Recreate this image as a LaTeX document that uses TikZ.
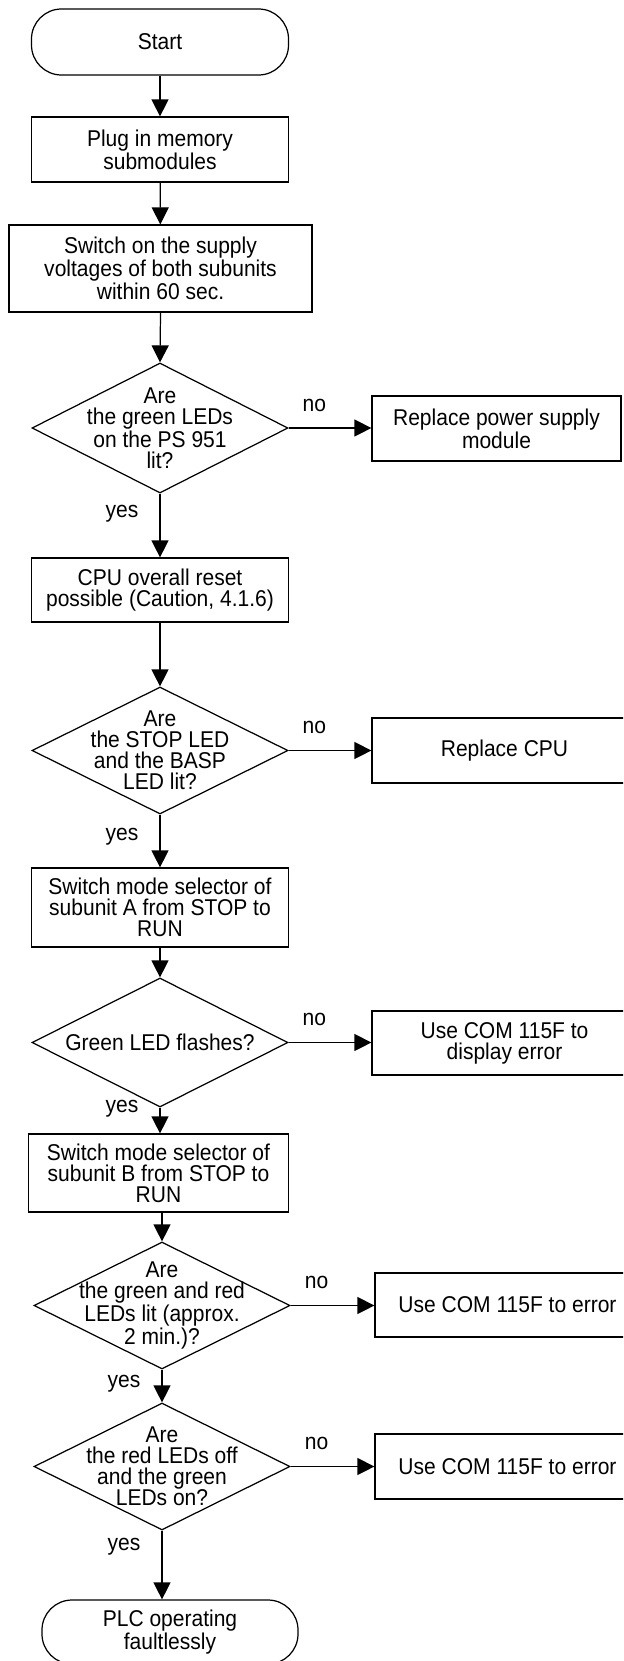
\documentclass[tikz,border=0pt]{standalone}
\usepackage{fontspec}
\setmainfont{Liberation Sans}[FakeStretch=0.92]
\usetikzlibrary{arrows.meta,shapes.geometric}
\tikzset{
  box/.style={draw=black,line width=0.7pt,rectangle,minimum width=5.14cm,minimum height=1.3cm,align=center,inner sep=0pt},
  term/.style={box,rounded corners=0.6cm},
  ask/.style={draw=black,line width=0.7pt,diamond,minimum width=5.12cm,minimum height=2.56cm,inner sep=0pt},
  asktext/.style={align=center,inner sep=0pt},
}
\tikzset{flow/.style={draw=black,line width=0.7pt,-{Triangle[length=0.34cm,width=0.34cm]}}, no/.style={inner sep=0pt,above=0.32cm}, yes/.style={inner sep=0pt,left=0.42cm}}

\begin{document}
\begin{tikzpicture}[every node/.style={font=\fontsize{13}{12}\selectfont}]
\useasboundingbox (0,0) rectangle (12.46,-33.22);
\clip (0,0) rectangle (12.46,-33.22);
% main column
\node[term,minimum height=1.32cm] (start) at (3.2,-0.84) {Start};
\node[box] (plug) at (3.2,-2.99) {Plug in memory\\submodules};
\node[box,minimum width=6.06cm,minimum height=1.74cm] (volt) at (3.21,-5.37) {Switch on the supply\\voltages of both subunits\\within 60 sec.};
\node[ask,minimum height=2.6cm] (d1) at (3.2,-8.56) {};
\node[asktext] at (d1) {Are\\the green LEDs\\on the PS 951\\lit?};
\node[box,minimum height=1.28cm] (cpu) at (3.2,-11.8) {CPU overall reset\\possible (Caution, 4.1.6)};
\node[ask,minimum height=2.54cm] (d2) at (3.2,-15.01) {};
\node[asktext] at (d2) {Are\\the STOP LED\\and the BASP\\LED lit?};
\node[box,minimum height=1.58cm] (swa) at (3.2,-18.15) {Switch mode selector of\\subunit A from STOP to\\RUN};
\node[ask,minimum height=2.58cm] (d3) at (3.2,-20.85) {};
\node[asktext] at (d3) {Green LED flashes?};
\node[box,minimum width=5.2cm,minimum height=1.56cm] (swb) at (3.17,-23.46) {Switch mode selector of\\subunit B from STOP to\\RUN};
\node[ask,minimum height=2.54cm] (d4) at (3.24,-26.11) {};
\node[asktext] at (d4) {Are\\the green and red\\LEDs lit (approx.\\2 min.)?};
\node[ask,minimum height=2.54cm] (d5) at (3.24,-29.33) {};
\node[asktext] at (d5) {Are\\the red LEDs off\\and the green\\LEDs on?};
\node[term,minimum width=5.12cm,minimum height=1.28cm] (done) at (3.4,-32.64) {PLC operating\\faultlessly};
% error column
\node[box,minimum width=4.98cm] (r1) at (9.93,-8.57) {Replace power supply\\module};
\node[box,minimum width=5.3cm] (r2) at (10.09,-15.01) {Replace CPU};
\node[box,minimum width=5.3cm,minimum height=1.28cm] (r3) at (10.09,-20.86) {Use COM 115F to\\display error};
\node[box,minimum width=5.3cm,minimum height=1.28cm] (r4) at (10.15,-26.1) {Use COM 115F to error};
\node[box,minimum width=5.3cm] (r5) at (10.15,-29.33) {Use COM 115F to error};
% arrows
\draw[flow] (start) -- (plug);
\draw[flow] (plug) -- (volt);
\draw[flow] (volt.south) -- (d1.north);
\draw[flow] (d1.east) -- node[no,pos=0.31] {no} (d1.east -| r1.west);
\draw[flow] (d1.south) -- node[yes,pos=0.31] {yes} (cpu.north);
\draw[flow] (cpu.south) -- (d2.north);
\draw[flow] (d2.east) -- node[no,pos=0.31] {no} (d2.east -| r2.west);
\draw[flow] (d2.south) -- node[yes,pos=0.41] {yes} (swa.north);
\draw[flow] (swa.south) -- (d3.north);
\draw[flow] (d3.east) -- node[no,pos=0.31] {no} (d3.east -| r3.west);
\draw[flow] (d3.south) -- node[yes,pos=0.04] {yes} (d3.south |- swb.north);
\draw[flow] (swb.south -| d4.north) -- (d4.north);
\draw[flow] (d4.east) -- node[no,pos=0.31] {no} (d4.east -| r4.west);
\draw[flow] (d4.south) -- node[yes,pos=0.44] {yes} (d5.north);
\draw[flow] (d5.east) -- node[no,pos=0.31] {no} (d5.east -| r5.west);
\draw[flow] (d5.south) -- node[yes,pos=0.23] {yes} (d5.south |- done.north);
\end{tikzpicture}
\end{document}
